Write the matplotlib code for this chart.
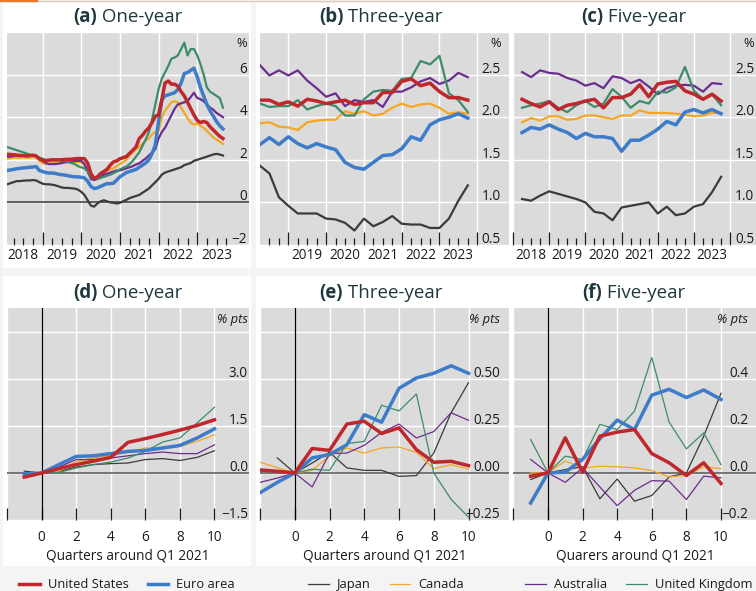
import numpy as np
import matplotlib
matplotlib.use('Agg')
import matplotlib.pyplot as plt
import matplotlib.transforms as mtransforms
from matplotlib.lines import Line2D
from matplotlib.patches import Rectangle

plt.rcParams['font.family'] = ['Open Sans', 'DejaVu Sans']

# ---------------- data ----------------
names = ['Japan', 'Canada', 'Australia', 'United Kingdom', 'Euro area', 'United States']
colors = ['#3b3b3b', '#f5a623', '#6b2d8f', '#3c8c69', '#3d7cc9', '#c0272d']

# (a) one-year expectations, monthly, Feb 2018 - Sep 2023
months = 2018 + np.arange(1, 69) / 12
one_jp = [0.85, 0.9, 0.95, 1.0, 1.0, 1.02, 1.03, 1.03, 1.05, 1.03, 0.95,
          0.88, 0.85, 0.85, 0.83, 0.8, 0.75, 0.7, 0.68, 0.68, 0.66, 0.65, 0.6,
          0.5, 0.35, 0.1, -0.15, -0.2, -0.05, 0.05, 0.1, 0.05, 0.0, -0.02, -0.05,
          -0.02, 0.05, 0.12, 0.2, 0.25, 0.3, 0.35, 0.45, 0.55, 0.65, 0.8, 0.95,
          1.1, 1.3, 1.4, 1.45, 1.5, 1.55, 1.6, 1.65, 1.75, 1.8, 1.85, 1.95,
          2.0, 2.05, 2.1, 2.15, 2.2, 2.25, 2.28, 2.25, 2.2]
one_ca = [2.05, 2.08, 2.1, 2.1, 2.1, 2.12, 2.1, 2.1, 2.12, 2.1, 1.95,
          1.85, 1.8, 1.8, 1.85, 1.85, 1.85, 1.85, 1.85, 1.85, 1.85, 1.9, 1.9,
          1.88, 1.75, 1.5, 1.2, 1.1, 1.2, 1.3, 1.4, 1.5, 1.55, 1.6, 1.7,
          1.8, 1.9, 2.0, 2.2, 2.35, 2.5, 2.6, 2.75, 2.9, 3.0, 3.2, 3.3,
          3.35, 4.0, 4.3, 4.5, 4.7, 4.75, 4.7, 4.45, 4.2, 3.95, 3.75, 3.65,
          3.7, 3.6, 3.5, 3.35, 3.2, 3.05, 2.95, 2.85, 2.75]
one_au = [2.15, 2.15, 2.18, 2.2, 2.2, 2.2, 2.2, 2.22, 2.2, 2.18, 2.05,
          1.95, 1.85, 1.8, 1.8, 1.8, 1.82, 1.85, 1.9, 1.92, 1.93, 1.95, 1.95,
          1.95, 1.8, 1.45, 1.1, 1.05, 1.1, 1.2, 1.3, 1.35, 1.4, 1.45, 1.5,
          1.5, 1.55, 1.6, 1.65, 1.7, 1.78, 1.83, 1.95, 2.06, 2.2, 2.35, 2.5,
          3.0, 3.3, 3.5, 3.8, 4.1, 4.4, 4.6, 4.65, 4.7, 4.75, 4.95, 5.15,
          4.9, 4.85, 4.75, 4.6, 4.45, 4.35, 4.2, 4.1, 4.0]
one_uk = [2.6, 2.55, 2.5, 2.45, 2.4, 2.35, 2.3, 2.25, 2.2, 2.15, 2.1,
          2.05, 2.0, 2.0, 1.98, 1.98, 1.98, 1.95, 1.95, 1.92, 1.85, 1.8, 1.7,
          1.65, 1.6, 1.45, 1.2, 1.1, 1.1, 1.15, 1.2, 1.25, 1.3, 1.37, 1.45,
          1.55, 1.62, 1.68, 1.8, 1.95, 2.15, 2.35, 2.65, 2.95, 3.3, 3.9, 4.6,
          5.3, 5.8, 6.1, 6.4, 6.75, 6.8, 6.9, 7.2, 7.5, 6.9, 7.2, 7.2,
          6.9, 6.5, 6.0, 5.4, 5.2, 5.1, 5.0, 4.9, 4.45]
one_ea = [1.5, 1.52, 1.55, 1.58, 1.6, 1.62, 1.63, 1.65, 1.66, 1.68, 1.5,
          1.45, 1.4, 1.38, 1.38, 1.36, 1.32, 1.3, 1.28, 1.25, 1.22, 1.2, 1.2,
          1.18, 1.15, 1.0, 0.75, 0.65, 0.68, 0.75, 0.82, 0.88, 0.88, 0.9, 1.05,
          1.2, 1.3, 1.4, 1.45, 1.5, 1.55, 1.65, 1.75, 1.85, 2.0, 2.3, 2.7,
          3.8, 4.8, 5.0, 5.05, 5.1, 5.15, 5.3, 5.6, 6.05, 6.1, 6.2, 6.3,
          5.9, 5.4, 5.0, 4.6, 4.3, 4.05, 3.8, 3.6, 3.45]
one_us = [2.26, 2.25, 2.24, 2.22, 2.2, 2.2, 2.18, 2.2, 2.22, 2.18, 2.05,
          1.98, 1.95, 1.98, 2.0, 2.0, 2.0, 2.0, 2.02, 2.02, 2.03, 2.05, 2.06,
          2.06, 2.05, 1.85, 1.35, 1.12, 1.2, 1.35, 1.45, 1.55, 1.75, 1.9, 1.95,
          2.05, 2.1, 2.15, 2.3, 2.45, 2.6, 3.0, 3.15, 3.35, 3.5, 3.75, 4.05,
          4.1, 4.8, 5.6, 5.7, 5.55, 5.55, 5.45, 5.2, 5.0, 4.7, 4.4, 4.1,
          3.85, 3.75, 3.8, 3.75, 3.55, 3.4, 3.25, 3.1, 3.0]

# (b), (c) three- and five-year expectations, quarterly
quarters = 2018.25 + 0.25 * np.arange(23)
three_jp = [1.43, 1.34, 1.06, 0.96, 0.87, 0.87, 0.87, 0.81, 0.8, 0.76, 0.67, 0.81,
            0.72, 0.77, 0.84, 0.75, 0.74, 0.74, 0.7, 0.7, 0.81, 1.02, 1.2]
three_ca = [1.93, 1.94, 1.89, 1.88, 1.85, 1.94, 1.96, 1.97, 1.97, 2.07, 2.04, 2.07,
            2.02, 2.04, 2.11, 2.16, 2.12, 2.15, 2.16, 2.11, 2.04, 2.06, 2.04]
three_au = [2.61, 2.49, 2.55, 2.49, 2.55, 2.43, 2.34, 2.24, 2.28, 2.13, 2.2, 2.18,
            2.2, 2.12, 2.3, 2.3, 2.35, 2.42, 2.46, 2.39, 2.43, 2.52, 2.47]
three_uk = [2.16, 2.12, 2.13, 2.13, 2.2, 2.09, 2.13, 2.16, 2.13, 2.02, 2.02, 2.21,
            2.3, 2.32, 2.31, 2.45, 2.46, 2.66, 2.62, 2.72, 2.28, 2.2, 2.06]
three_ea = [1.68, 1.76, 1.68, 1.77, 1.69, 1.64, 1.69, 1.65, 1.62, 1.47, 1.41, 1.39,
            1.47, 1.55, 1.56, 1.63, 1.77, 1.73, 1.91, 1.97, 2.0, 2.04, 1.99]
three_us = [2.2, 2.2, 2.15, 2.18, 2.13, 2.21, 2.19, 2.16, 2.18, 2.2, 2.15, 2.17,
            2.17, 2.29, 2.29, 2.42, 2.45, 2.37, 2.4, 2.3, 2.23, 2.23, 2.2]

five_jp = [1.04, 1.02, 1.08, 1.13, 1.1, 1.07, 1.04, 1.0, 0.89, 0.87, 0.79, 0.94,
           0.96, 0.98, 1.0, 0.87, 0.95, 0.85, 0.87, 0.95, 0.98, 1.12, 1.3]
five_ca = [1.94, 1.99, 1.96, 2.01, 2.01, 1.97, 1.98, 2.02, 2.02, 2.0, 1.98, 2.02,
           2.02, 2.08, 2.05, 2.05, 2.05, 2.04, 2.03, 2.01, 2.02, 2.05, 2.05]
five_au = [2.53, 2.47, 2.55, 2.52, 2.51, 2.46, 2.43, 2.37, 2.4, 2.34, 2.48, 2.46,
           2.4, 2.44, 2.36, 2.27, 2.34, 2.37, 2.38, 2.37, 2.3, 2.4, 2.39]
five_uk = [2.11, 2.14, 2.16, 2.19, 2.11, 2.06, 2.14, 2.19, 2.12, 2.16, 2.33, 2.24,
           2.11, 2.19, 2.16, 2.3, 2.29, 2.35, 2.59, 2.31, 2.21, 2.27, 2.14]
five_ea = [1.82, 1.88, 1.86, 1.91, 1.86, 1.82, 1.75, 1.81, 1.77, 1.77, 1.75, 1.6,
           1.73, 1.73, 1.79, 1.86, 1.95, 1.91, 2.06, 2.09, 2.05, 2.09, 2.04]
five_us = [2.21, 2.16, 2.12, 2.18, 2.09, 2.14, 2.16, 2.19, 2.21, 2.11, 2.23, 2.23,
           2.27, 2.38, 2.24, 2.39, 2.41, 2.42, 2.31, 2.27, 2.21, 2.27, 2.19]

# (d)-(f) change since Q1 2021, quarters around Q1 2021
qtr = [-1, 0, 1, 2, 3, 4, 5, 6, 7, 8, 9, 10]
qtr_e = [-2, -1, 0, 1, 2, 3, 4, 5, 6, 7, 8, 9, 10]
d_jp = [0.06, 0, 0.05, 0.19, 0.27, 0.3, 0.32, 0.43, 0.46, 0.4, 0.5, 0.71]
d_ca = [-0.05, 0, 0.05, 0.37, 0.48, 0.55, 0.66, 0.8, 0.8, 0.85, 1.01, 1.22]
d_au = [-0.05, 0, 0.19, 0.43, 0.43, 0.48, 0.55, 0.62, 0.67, 0.62, 0.62, 0.9]
d_uk = [0.0, 0, 0.02, 0.16, 0.27, 0.35, 0.48, 0.69, 0.99, 1.12, 1.6, 2.1]
d_ea = [-0.03, 0, 0.27, 0.53, 0.55, 0.62, 0.69, 0.72, 0.8, 0.88, 1.12, 1.41]
d_us = [-0.13, 0, 0.14, 0.27, 0.38, 0.5, 0.98, 1.1, 1.23, 1.37, 1.52, 1.7]

e_jp = [np.nan, 0.08, 0, 0.053, 0.11, 0.027, 0.014, 0.014, -0.018, -0.014, 0.106, 0.32, 0.48]
e_ca = [0.057, 0.028, 0, 0.014, 0.09, 0.133, 0.106, 0.133, 0.138, 0.11, 0.023, 0.044, 0.02]
e_au = [-0.05, -0.027, 0, -0.074, 0.103, 0.106, 0.147, 0.216, 0.26, 0.186, 0.22, 0.32, 0.28]
e_uk = [0.01, 0.005, 0, 0.02, 0.014, 0.156, 0.168, 0.36, 0.33, 0.42, 0.0, -0.14, -0.235]
e_ea = [-0.105, -0.05, 0, 0.08, 0.098, 0.15, 0.31, 0.27, 0.45, 0.505, 0.53, 0.57, 0.53]
e_us = [0.016, 0.009, 0, 0.13, 0.12, 0.26, 0.275, 0.21, 0.24, 0.124, 0.057, 0.062, 0.039]

f_jp = [-0.028, 0, 0.014, 0.026, -0.11, -0.026, -0.12, -0.096, -0.017, 0.0, 0.156, 0.338]
f_ca = [0.0, 0, 0.05, 0.021, 0.028, 0.026, 0.021, 0.01, -0.017, -0.011, 0.026, 0.018]
f_au = [0.057, 0, -0.04, 0.021, -0.06, -0.139, -0.074, -0.033, -0.035, -0.113, -0.014, -0.021]
f_uk = [0.142, 0, 0.071, 0.057, 0.206, 0.184, 0.262, 0.49, 0.216, 0.102, 0.17, 0.035]
f_ea = [-0.128, 0, 0.003, 0.057, 0.145, 0.224, 0.184, 0.33, 0.355, 0.32, 0.352, 0.312]
f_us = [-0.014, 0, 0.149, 0.003, 0.156, 0.173, 0.184, 0.082, 0.043, -0.011, 0.043, -0.045]

year_names = ['2018', '2019', '2020', '2021', '2022', '2023']

# ---------------- layout ----------------
W, H = 756, 591
PLOT_BG = '#dbdbdb'
TITLE_C = '#1f383e'
TXT_C = '#1a1a1a'

fig = plt.figure(figsize=(W / 100, H / 100), dpi=100, facecolor='#f4f4f4')
renderer = fig.canvas.get_renderer()


def px_axes(l, t, r, b):
    return fig.add_axes([l / W, 1 - b / H, (r - l) / W, (b - t) / H])


def box(l, t, r, b):
    fig.add_artist(Rectangle((l / W, 1 - b / H), (r - l) / W, (b - t) / H,
                             transform=fig.transFigure, facecolor='white',
                             edgecolor='none', zorder=-5))


for l, r in [(3, 251), (256, 511), (511, 756)]:
    box(l, 3, r, 268)
    box(l, 276, r, 566)

# top strip
fig.add_artist(Line2D([0, 1], [1 - 0.8 / H] * 2, transform=fig.transFigure,
                      color='#dccdc4', lw=1.0))
fig.add_artist(Line2D([0, 37 / W], [1 - 1 / H] * 2, transform=fig.transFigure,
                      color='#e8782a', lw=1.6))


def base_style(ax, xlim, ylim, yticks):
    ax.set_facecolor(PLOT_BG)
    for s in ax.spines.values():
        s.set_visible(False)
    ax.set_xlim(*xlim)
    ax.set_ylim(*ylim)
    ax.set_yticks(yticks)
    ax.grid(True, which='major', color='white', linewidth=1.0)
    ax.set_axisbelow(True)
    ax.tick_params(axis='y', left=False, labelleft=False)


def y_labels(ax, vals, texts, inset_px, unit, italic=False):
    w_px = ax.get_position().width * W
    tr = mtransforms.blended_transform_factory(ax.transAxes, ax.transData)
    tr = tr + mtransforms.ScaledTranslation(0, 1.5 / 72, fig.dpi_scale_trans)
    x = 1 - inset_px / w_px
    for v, t in zip(vals, texts):
        ax.text(x, v, t, transform=tr, ha='right', va='baseline',
                fontsize=9.8, color=TXT_C)
    ax.text(x, 1 - 5 / (ax.get_position().height * H), unit, transform=ax.transAxes,
            ha='right', va='top', fontsize=9.3, color=TXT_C,
            style='italic' if italic else 'normal')


def title(ax, letter, name, cx=None):
    # bold panel letter followed by regular name, centred as one string
    pos = ax.get_position()
    if cx is None:
        cx = pos.x0 + pos.width / 2
    y = pos.y1 + 15 / H
    t1 = fig.text(0, y, '(' + letter + ')', ha='left', va='center', fontsize=13.5,
                  fontweight='bold', color=TITLE_C)
    t2 = fig.text(0, y, ' ' + name, ha='left', va='center', fontsize=13.5,
                  color=TITLE_C)
    w1 = t1.get_window_extent(renderer).width / W
    w2 = t2.get_window_extent(renderer).width / W
    x0 = cx - (w1 + w2) / 2
    t1.set_x(x0)
    t2.set_x(x0 + w1)


def top_panel(ax, xlim, ylim, yticks, majors, minors, years):
    base_style(ax, xlim, ylim, yticks)
    ax.set_xticks(majors)
    ax.set_xticks(minors, minor=True)
    ax.tick_params(axis='x', which='major', direction='in', length=9.5, width=0.9,
                   color='#1a1a1a', labelbottom=False)
    ax.tick_params(axis='x', which='minor', direction='in', length=5, width=0.9,
                   color='#1a1a1a')
    tr = mtransforms.blended_transform_factory(ax.transData, ax.transAxes)
    for yr in years:
        ax.text(int(yr) + 0.5, -0.012, yr, transform=tr, ha='center', va='top',
                fontsize=9.8, color=TXT_C)


def bottom_panel(ax, xlim, ylim, yticks, xl):
    base_style(ax, xlim, ylim, yticks)
    ax.set_xticks([-2, 0, 2, 4, 6, 8, 10])
    ax.set_xticklabels(['', '0', '2', '4', '6', '8', '10'])
    ax.tick_params(axis='x', which='major', direction='in', length=9, width=0.9,
                   color='#1a1a1a', pad=7, labelsize=9.8, labelcolor=TXT_C)
    ax.axhline(0, color='#6b6b6b', lw=1.3, zorder=1.5)
    ax.axvline(0, color='black', lw=0.9, zorder=1.5)
    ax.set_xlabel(xl, fontsize=9.8, color=TXT_C, labelpad=3)


widths_top = [1.6, 1.6, 1.6, 1.6, 2.5, 2.5]
widths_bot = [0.9, 0.9, 0.9, 0.9, 2.5, 2.5]
leg_kw = dict(loc='center', ncol=2, frameon=False, fontsize=9.3, handlelength=1.6,
              handletextpad=0.6, columnspacing=1.5, labelcolor=TXT_C)

# ---- (a) ----
ax = px_axes(7, 32, 249, 245)
top_panel(ax, (2018.08, 2024.34), (-2, 8), [-2, 0, 2, 4, 6, 8],
          [2019, 2020, 2021, 2022, 2023],
          [2018.25, 2018.5, 2018.75, 2019.25, 2019.5, 2019.75, 2020.25, 2020.5,
           2020.75, 2021.25, 2021.5, 2021.75, 2022.25, 2022.5, 2022.75, 2023.25,
           2023.5, 2023.75], year_names)
ax.axhline(0, color='#454545', lw=1.2, zorder=1.5)
for ys, c, lw in zip([one_jp, one_ca, one_au, one_uk, one_ea, one_us], colors, widths_top):
    ax.plot(months, ys, color=c, lw=lw, solid_joinstyle='round')
y_labels(ax, [6, 4, 2, 0, -2], ['6', '4', '2', '0', '\u22122'], 2, '%')
title(ax, 'a', 'One-year')

# ---- (b) ----
ax = px_axes(260, 32, 509, 245)
top_panel(ax, (2018.25, 2024.84), (0.5, 3.0), [0.5, 1.0, 1.5, 2.0, 2.5, 3.0],
          [2019, 2020, 2021, 2022, 2023, 2024],
          [2018.5, 2018.75, 2019.25, 2019.5, 2019.75, 2020.25, 2020.5, 2020.75,
           2021.25, 2021.5, 2021.75, 2022.25, 2022.5, 2022.75, 2023.25, 2023.5,
           2023.75], year_names[1:])
for ys, c, lw in zip([three_jp, three_ca, three_au, three_uk, three_ea, three_us], colors, widths_top):
    ax.plot(quarters, ys, color=c, lw=lw, solid_joinstyle='round')
y_labels(ax, [2.5, 2.0, 1.5, 1.0, 0.5], ['2.5', '2.0', '1.5', '1.0', '0.5'], 8, '%')
title(ax, 'b', 'Three-year', cx=381 / W)

# ---- (c) ----
ax = px_axes(513, 32, 762, 245)
top_panel(ax, (2018.0, 2024.88), (0.5, 3.0), [0.5, 1.0, 1.5, 2.0, 2.5, 3.0],
          [2018, 2019, 2020, 2021, 2022, 2023, 2024],
          [2018.25, 2018.5, 2018.75, 2019.25, 2019.5, 2019.75, 2020.25, 2020.5,
           2020.75, 2021.25, 2021.5, 2021.75, 2022.25, 2022.5, 2022.75, 2023.25,
           2023.5, 2023.75], year_names)
for ys, c, lw in zip([five_jp, five_ca, five_au, five_uk, five_ea, five_us], colors, widths_top):
    ax.plot(quarters, ys, color=c, lw=lw, solid_joinstyle='round')
y_labels(ax, [2.5, 2.0, 1.5, 1.0, 0.5], ['2.5', '2.0', '1.5', '1.0', '0.5'], 8, '%')
title(ax, 'c', 'Five-year', cx=634 / W)

# ---- (d) ----
ax = px_axes(7, 308, 249, 520)
bottom_panel(ax, (-2, 12), (-1.5, 5.27), [-1.5, 0, 1.5, 3.0, 4.5],
             'Quarters around Q1 2021')
lines = []
for ys, c, lw, n in zip([d_jp, d_ca, d_au, d_uk, d_ea, d_us], colors, widths_bot, names):
    lines.append(ax.plot(qtr, ys, color=c, lw=lw, label=n)[0])
y_labels(ax, [3.0, 1.5, 0.0, -1.5], ['3.0', '1.5', '0.0', '\u22121.5'], 1, '% pts', italic=True)
title(ax, 'd', 'One-year')
ax.legend(handles=[lines[5], lines[4]], bbox_to_anchor=(0.496, -0.305), **leg_kw)

# ---- (e) ----
ax = px_axes(260, 308, 509, 520)
bottom_panel(ax, (-1.45, 12.33), (-0.25, 0.877), [-0.25, 0, 0.25, 0.5, 0.75],
             'Quarters around Q1 2021')
for ys, c, lw in zip([e_jp, e_ca, e_au, e_uk, e_ea, e_us], colors, widths_bot):
    ax.plot(qtr_e, ys, color=c, lw=lw)
y_labels(ax, [0.5, 0.25, 0.0, -0.25], ['0.50', '0.25', '0.00', '\u22120.25'], 9, '% pts', italic=True)
title(ax, 'e', 'Three-year', cx=381 / W)
ax.legend(handles=[lines[0], lines[1]], bbox_to_anchor=(0.506, -0.305), **leg_kw)

# ---- (f) ----
ax = px_axes(513, 308, 757, 520)
bottom_panel(ax, (-2.02, 12.08), (-0.2, 0.70), [-0.2, 0, 0.2, 0.4, 0.6],
             'Quarers around Q1 2021')
for ys, c, lw in zip([f_jp, f_ca, f_au, f_uk, f_ea, f_us], colors, widths_bot):
    ax.plot(qtr, ys, color=c, lw=lw)
y_labels(ax, [0.4, 0.2, 0.0, -0.2], ['0.4', '0.2', '0.0', '\u22120.2'], 9, '% pts', italic=True)
title(ax, 'f', 'Five-year', cx=634 / W)
ax.legend(handles=[lines[2], lines[3]], bbox_to_anchor=(0.515, -0.305), **leg_kw)

fig.savefig('out.png', dpi=100, facecolor=fig.get_facecolor())
